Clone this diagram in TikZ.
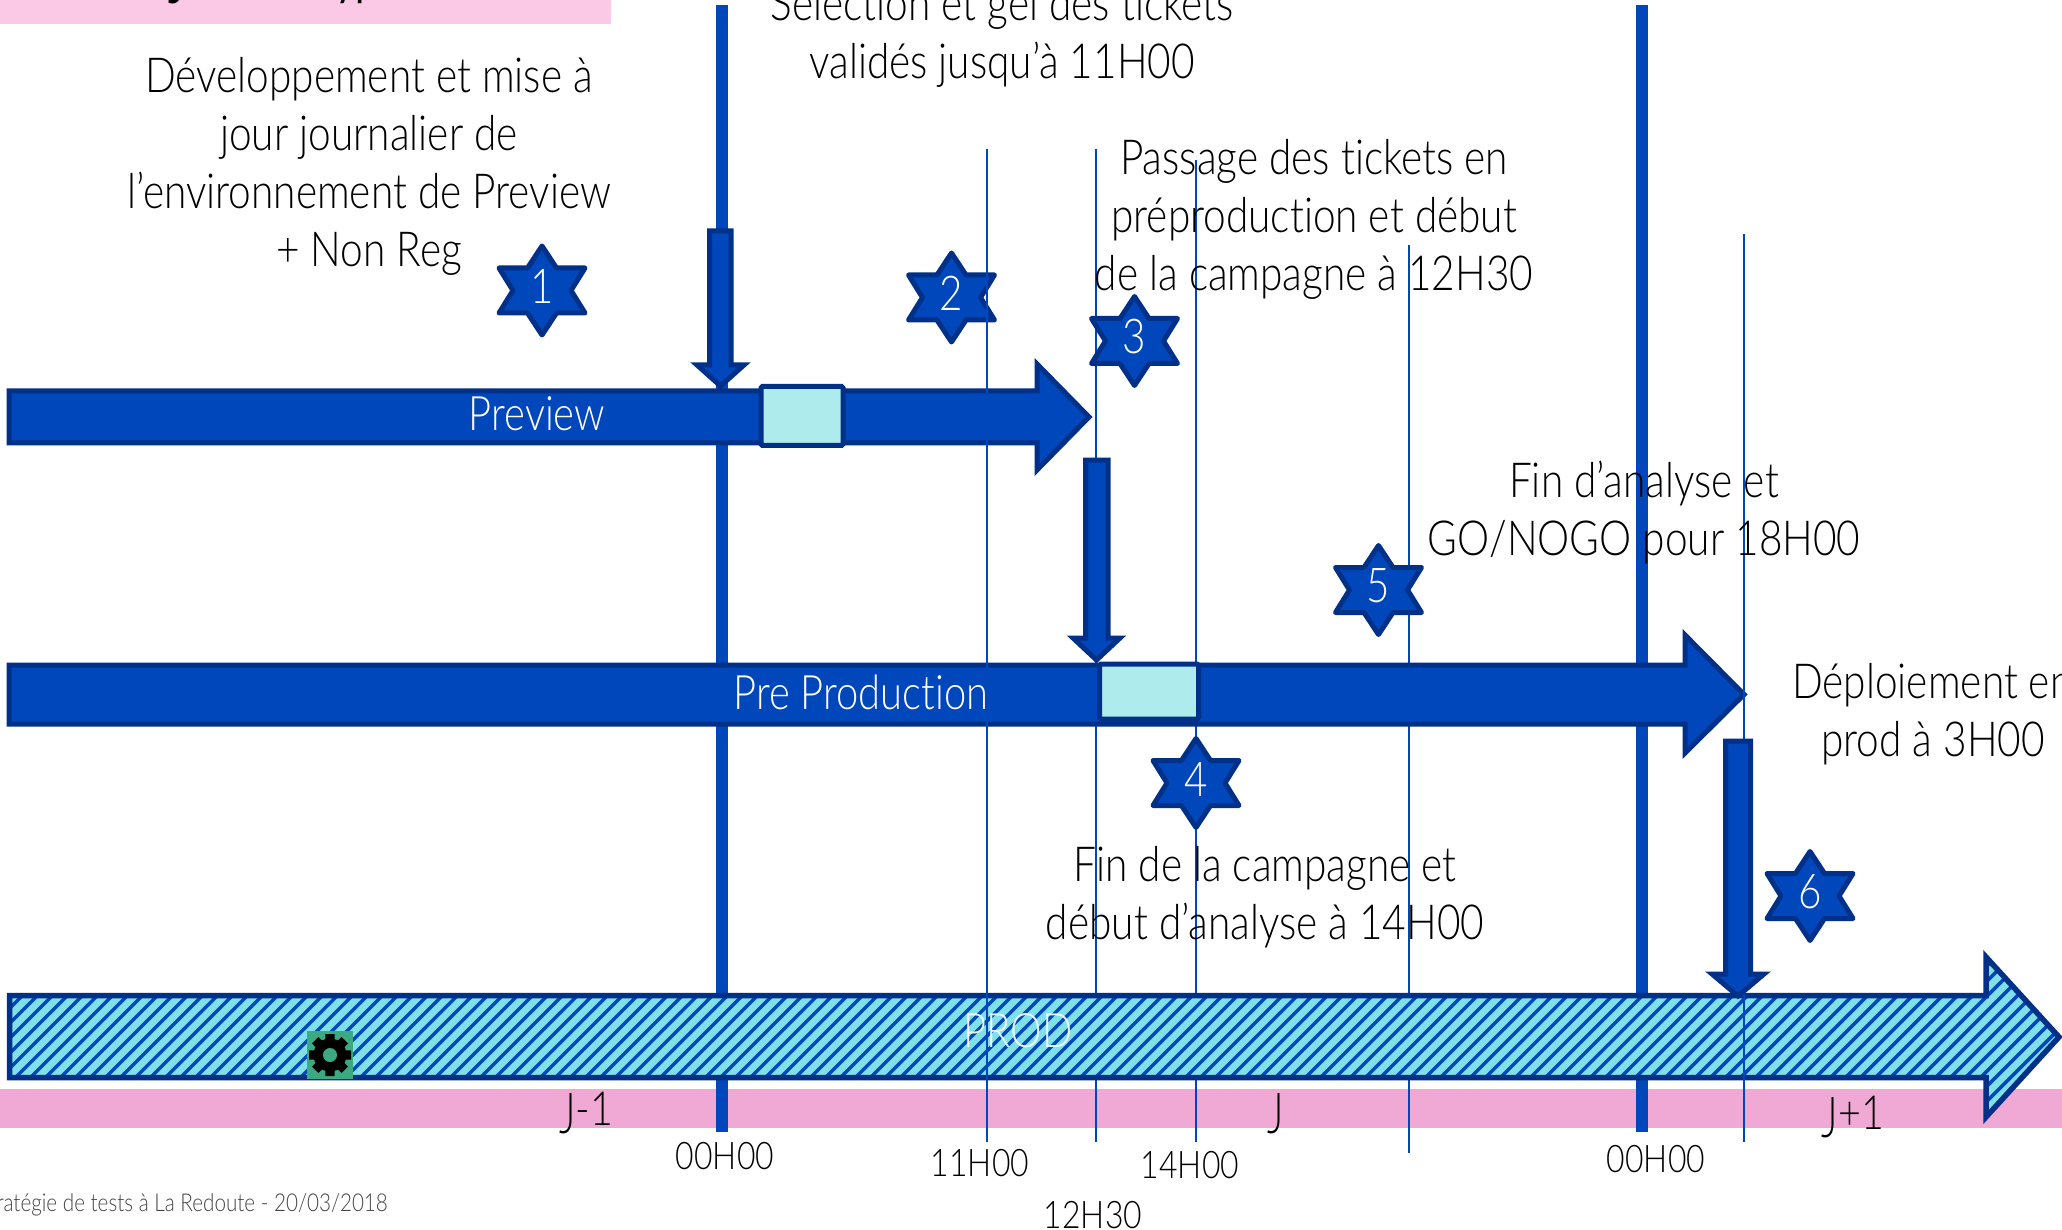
\documentclass[tikz,border=0pt]{standalone}
\usepackage{fontspec}
\setmainfont{Lato Light}[FakeStretch=0.84,Ligatures=NoCommon]
\newfontfamily\boldtitle{Lato}[FakeStretch=0.84,Ligatures=NoCommon]
\definecolor{bluefill}{HTML}{0047BB}
\definecolor{blueline}{HTML}{003087}
\definecolor{toppink}{HTML}{FBC8E6}
\definecolor{bandpink}{HTML}{F0A8D4}
\definecolor{lightbox}{HTML}{AEEBEC}
\definecolor{hatchbg}{HTML}{7FE0E8}
\definecolor{geargreen}{HTML}{3BAA82}
\definecolor{footgrey}{HTML}{444444}
\tikzset{
  bararrow/.style={fill=bluefill,draw=blueline,line width=5pt,miter limit=10},
  downarrow/.style={fill=bluefill,draw=blueline,line width=5pt,miter limit=10},
  thickrule/.style={draw=bluefill,line width=12pt},
  thinrule/.style={draw=bluefill,line width=2pt},
  gatebox/.style={fill=lightbox,draw=blueline,line width=5pt,rounded corners=1.5pt},
  startext/.style={fill=bluefill,draw=blueline,line width=5pt,line join=round},
  note/.style={align=center,inner sep=0pt,font=\fontsize{48.3}{58}\selectfont},
  barlabel/.style={inner sep=0pt,text=white,font=\fontsize{47.5}{58}\selectfont},
  starlabel/.style={inner sep=0pt,text=white,font=\fontsize{48}{58}\selectfont},
  timelabel/.style={inner sep=0pt,font=\fontsize{38}{40}\selectfont},
  daylabel/.style={inner sep=0pt,anchor=base,font=\fontsize{47}{50}\selectfont},
}
% six-pointed star: name, centre x, centre y, text
\newcommand{\hexstar}[4]{%
  \path[startext] (#2,#3-44.5) -- (#2+14.5,#3-22.5) -- (#2+43,#3-22.5) -- (#2+29,#3)
    -- (#2+43,#3+22.5) -- (#2+14.5,#3+22.5) -- (#2,#3+44.5) -- (#2-14.5,#3+22.5)
    -- (#2-43,#3+22.5) -- (#2-29,#3) -- (#2-43,#3-22.5) -- (#2-14.5,#3-22.5) -- cycle;
  \node[starlabel] (#1) at (#2,#3-4) {#4};}
\newcommand{\lowJ}{\raisebox{-8pt}{\scalebox{1}[1.2]{J}}}
\begin{document}
\begin{tikzpicture}[x=1pt,y=-1pt]
\clip (0,0) rectangle (2062,1230);
\fill[white] (0,0) rectangle (2062,1230);
% header and day band
\fill[toppink] (0,0) rectangle (611,24);
\node[anchor=base west,inner sep=0pt,font=\fontsize{48}{60}\boldtitle\selectfont] (title) at (168,-4) {\lowJ ournée type};
\fill[bandpink] (0,1089) rectangle (2062,1128);
% rules beneath the bars
\coordinate (t1a) at (722,5); \coordinate (t1b) at (722,1132);
\coordinate (t2a) at (1642,5); \coordinate (t2b) at (1642,1132);
\draw[thickrule] (t1a) -- (t1b);
\draw[thickrule] (t2a) -- (t2b);
\coordinate (r2a) at (1096,149); \coordinate (r2b) at (1096,1142);
\coordinate (r3a) at (1195.5,160); \coordinate (r3b) at (1195.5,1142);
\coordinate (r4a) at (1408.5,245); \coordinate (r4b) at (1408.5,1153);
\draw[thinrule] (r2a) -- (r2b);
\draw[thinrule] (r3a) -- (r3b);
\draw[thinrule] (r4a) -- (r4b);
% Preview arrow
\path[bararrow] (9,391) -- (1037,391) -- (1037,364) -- (1089,417) -- (1037,470) -- (1037,443) -- (9,443) -- cycle;
\node[gatebox,minimum width=82pt,minimum height=59pt,inner sep=0pt] (previewbox) at (802,416) {};
% Pre Production arrow
\path[bararrow] (9,665) -- (1685,665) -- (1685,635) -- (1744,694.5) -- (1685,753) -- (1685,724) -- (9,724) -- cycle;
\node[gatebox,minimum width=99pt,minimum height=55pt,inner sep=0pt] (ppbox) at (1149,691.5) {};
% PROD arrow
\begin{scope}
\clip (9.5,995.5) -- (1986,995.5) -- (1986,957) -- (2059,1037) -- (1986,1117) -- (1986,1077.5) -- (9.5,1077.5) -- cycle;
\fill[hatchbg] (0,940) rectangle (2062,1130);
\foreach \xx in {-202,-187,...,2100} {\draw[bluefill,line width=3.5pt] (\xx,1130) -- (\xx+190,940);}
\end{scope}
\draw[blueline,line width=5.5pt,miter limit=10] (9.5,995.5) -- (1986,995.5) -- (1986,957) -- (2059,1037) -- (1986,1117) -- (1986,1077.5) -- (9.5,1077.5) -- cycle;
% gear
\node[fill=geargreen,minimum width=46pt,minimum height=48pt,inner sep=0pt] (gear) at (330,1055) {};
\fill[black] (330,1055) circle (16.5pt);
\foreach \a in {0,45,...,315} {\fill[black,rotate around={\a:(330,1055)}] (325,1055) -- (325.5,1034) -- (334.5,1034) -- (335,1055) -- cycle;}
\fill[geargreen] (330,1055) circle (7pt);
% rule over PROD, beneath the last down arrow
\coordinate (r5a) at (1744,234); \coordinate (r5b) at (1744,1142);
\draw[thinrule] (r5a) -- (r5b);
% down arrows
\path[downarrow] (709.5,231) -- (731,231) -- (731,365) -- (744,365) -- (720.5,386) -- (697,365) -- (709.5,365) -- cycle;
\path[downarrow] (1085.5,460) -- (1108,460) -- (1108,638) -- (1120,638) -- (1096.5,660) -- (1073,638) -- (1085.5,638) -- cycle;
\path[downarrow] (1725.5,741) -- (1750.5,741) -- (1750.5,974) -- (1764,974) -- (1738,996) -- (1712,974) -- (1725.5,974) -- cycle;
% stars
\hexstar{s1}{542}{290.5}{1}
\hexstar{s2}{951.5}{297.5}{2}
\hexstar{s3}{1134.5}{341}{3}
\hexstar{s4}{1196}{783}{\raisebox{-3pt}{4}}
\hexstar{s5}{1378.5}{590}{5}
\hexstar{s6}{1810}{896}{6}
% bar labels
\node[barlabel] (lprev) at (537,414) {Preview};
\node[barlabel] (lpp) at (861,692) {Pre Production};
\node[barlabel,text=white,opacity=.9] (lprod) at (1018,1031) {PROD};
% rule over everything it crosses
\coordinate (r1a) at (987,149); \coordinate (r1b) at (987,1142);
\draw[thinrule] (r1a) -- (r1b);
% notes
\node[note] (n1) at (369,166) {Développement et mise à\\jour journalier de\\l’environnement de Preview\\+ Non Reg};
\node[note] (n2) at (1002,36) {Sélection et gel des tickets\\validés jusqu’à 11H00};
\node[note] (n3) at (1314,219) {Passage des tickets en\\préproduction et début\\de la campagne à 12H30};
\node[note] (n4) at (1644,513) {Fin d’analyse et\\GO/NOGO pour 18H00};
\node[note,anchor=west] (n5a) at (1792,685) {Déploiement en};
\node[note] (n5b) at (1933,743) {prod à 3H00};
\node[note] (n6) at (1265,897) {Fin de la campagne et\\début d’analyse à 14H00};
% day labels
\node[daylabel] (j1) at (586,1125) {\lowJ-1};
\node[daylabel] (j0) at (1276,1125) {\lowJ};
\node[daylabel] (j2) at (1853,1129) {\lowJ+1};
% time labels
\node[timelabel] (h1) at (725,1156) {00H00};
\node[timelabel] (h2) at (980,1163) {11H00};
\node[timelabel] (h3) at (1190,1165) {14H00};
\node[timelabel] (h4) at (1093,1215) {12H30};
\node[timelabel] (h5) at (1656,1159) {00H00};
\node[anchor=east,inner sep=0pt,text=footgrey,font=\fontsize{24.6}{30}\selectfont] (foot) at (388,1205) {Stratégie de tests à La Redoute - 20/03/2018};
\end{tikzpicture}
\end{document}
